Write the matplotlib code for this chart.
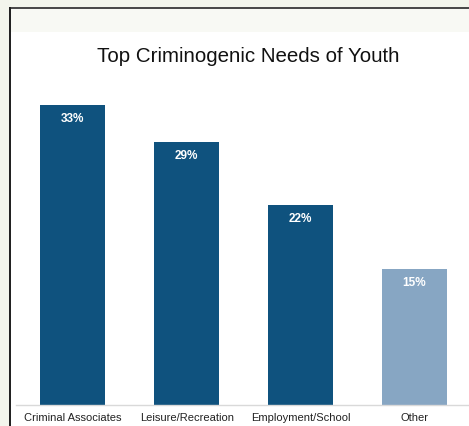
import matplotlib.pyplot as plt
from matplotlib.patches import Rectangle

# chart data
categories = ['Criminal Associates', 'Leisure/Recreation', 'Employment/School', 'Other']
values = [33, 29, 22, 15]
colors = ['#0f527e', '#0f527e', '#0f527e', '#87a6c3']

W, H = 469, 426
fig = plt.figure(figsize=(W / 100, H / 100), dpi=100)
fig.patch.set_facecolor('white')
plt.rcParams['font.family'] = ['Liberation Sans', 'DejaVu Sans']

# slide background pieces (pixel coords -> figure fractions)
def px_rect(x0, y0, x1, y1, color):
    fig.patches.append(Rectangle((x0 / W, 1 - y1 / H), (x1 - x0) / W, (y1 - y0) / H,
                                 transform=fig.transFigure, color=color, zorder=0, lw=0))

px_rect(0, 0, W, 7, '#f3f5ec')
px_rect(0, 0, 9, H, '#f3f5ec')
px_rect(10, 9, W, 32, '#f8f9f4')
px_rect(9, 7, W, 9, '#4a4a4a')
px_rect(9, 7, 10.5, H, '#222222')

# axes placed so that xlim (-0.5, 3.5) spans x 16..471 and y=0 sits at 405
x0, x1 = 16, 471
y_base, y_top = 405, 405 - 36 * 9.08
ax = fig.add_axes([x0 / W, 1 - y_base / H, (x1 - x0) / W, (y_base - y_top) / H])
ax.set_facecolor('none')

pos = range(len(categories))
bars = ax.bar(pos, values, width=0.57, color=colors, zorder=2)
for b, v in zip(bars, values):
    ax.text(b.get_x() + b.get_width() / 2, v - 1.55, f'{v}%', ha='center', va='center',
            color='white', fontsize=8.5, fontweight='bold')

ax.set_xlim(-0.5, 3.5)
ax.set_ylim(0, 36)
ax.set_xticks(list(pos))
ax.set_xticklabels(categories, fontsize=8.0, color='#222222')
ax.tick_params(axis='x', length=0, pad=5.5)
ax.set_yticks([])
for s in ['top', 'right', 'left']:
    ax.spines[s].set_visible(False)
ax.spines['bottom'].set_color('#d9d9d9')
ax.spines['bottom'].set_linewidth(1)

fig.text(248 / W, 1 - 57 / H, 'Top Criminogenic Needs of Youth', ha='center', va='center',
         fontsize=14.8, color='#111111')

fig.savefig('out.png', dpi=100)
